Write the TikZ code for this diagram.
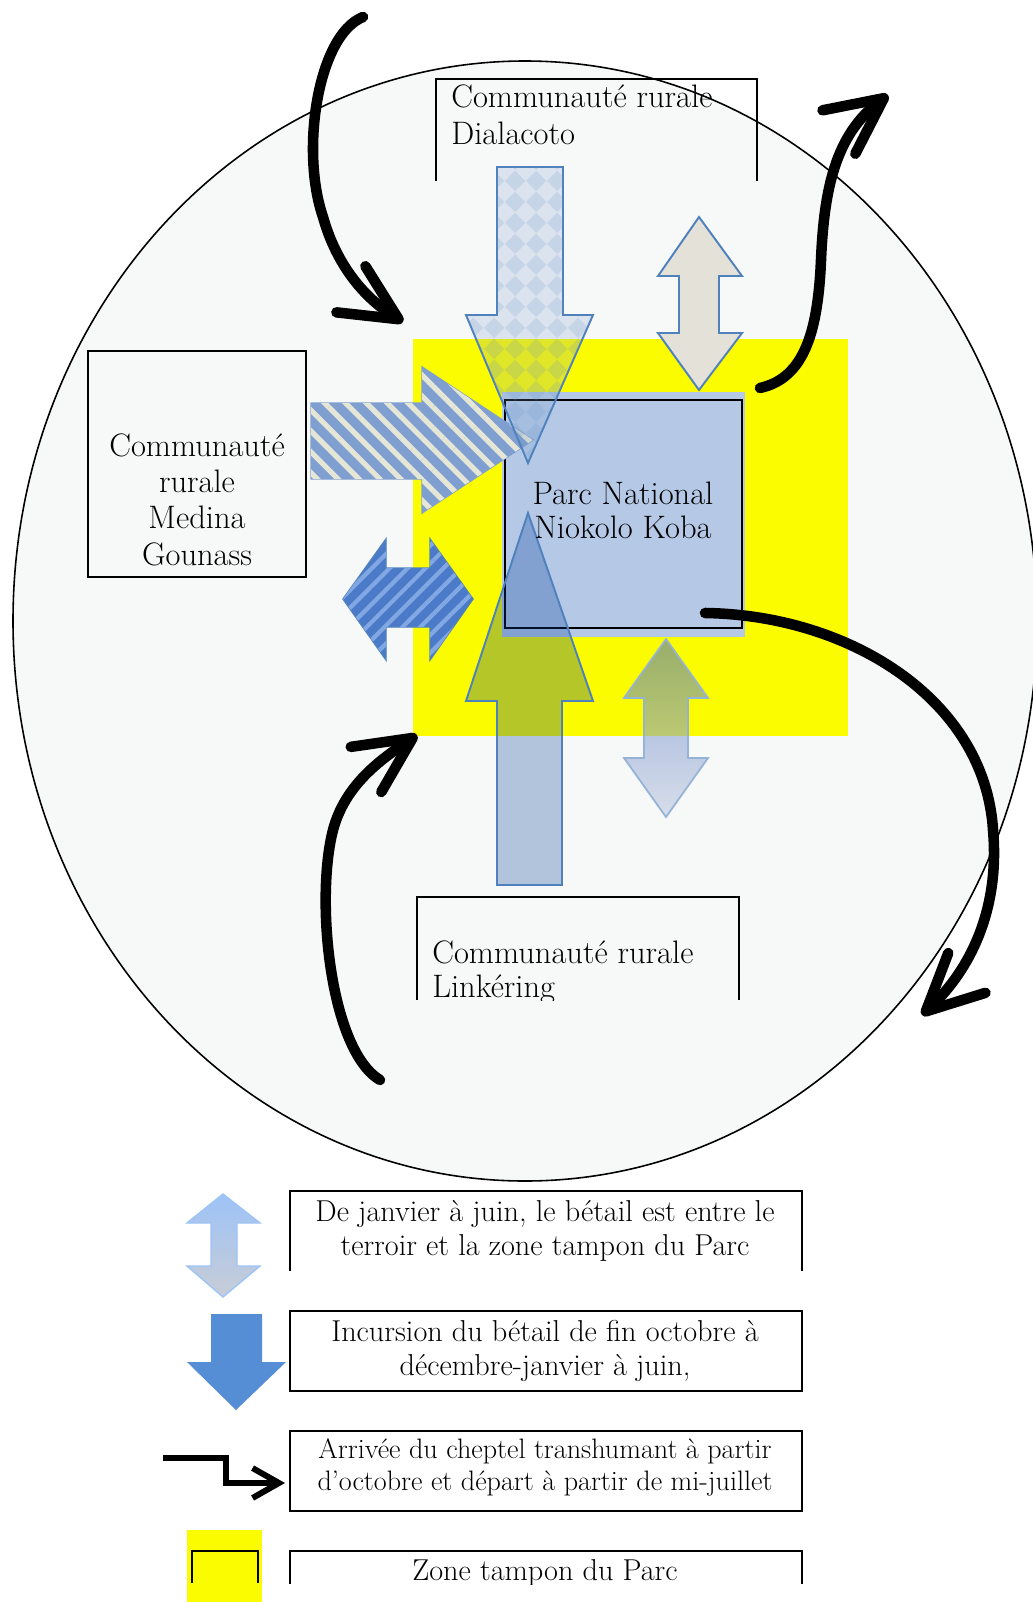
\documentclass[tikz,border=0pt]{standalone}
\usepackage{fontspec}
\usetikzlibrary{arrows.meta,patterns.meta}

\definecolor{terroir}{RGB}{247,248,248}
\definecolor{tampon}{RGB}{252,252,0}
\definecolor{parcbleu}{RGB}{181,201,231}
\definecolor{contour}{RGB}{79,129,189}
\definecolor{beige}{RGB}{228,225,216}
\definecolor{rayeclair}{RGB}{127,159,208}
\definecolor{rayeblanc}{RGB}{230,230,214}
\definecolor{rayefonce}{RGB}{74,122,200}
\definecolor{rayepale}{RGB}{130,168,228}
\definecolor{incursion}{RGB}{110,150,200}
\definecolor{montee}{RGB}{0,59,150}
\definecolor{degradehaut}{RGB}{70,110,195}
\definecolor{degradebas}{RGB}{190,200,222}
\definecolor{legendehaut}{RGB}{157,195,247}
\definecolor{legendebas}{RGB}{200,205,214}
\definecolor{legendebleu}{RGB}{85,142,213}

\tikzdeclarepattern{
  name=losanges,
  type=uncolored,
  bottom left={(0pt,0pt)},
  top right={(12pt,12pt)},
  tile size={(12pt,12pt)},
  code={\fill (6pt,0pt) -- (12pt,6pt) -- (6pt,12pt) -- (0pt,6pt) -- cycle;}
}

\begin{document}
\begin{tikzpicture}[x=0.02cm, y=-0.02cm,
    cadre/.style={draw=black, line width=0.9pt},
    legende/.style={draw=black, line width=1.1pt},
    bloc/.style={draw=contour, line width=1.1pt, line join=miter},
    transhum/.style={line width=6pt, line cap=round, line join=round,
      -{Straight Barb[length=32pt, width=31pt, round]}},
    texte/.style={inner sep=0pt, font=\fontsize{18.5}{20.5}\selectfont},
    texteleg/.style={inner sep=0pt, align=center, font=\fontsize{17.2}{18.8}\selectfont}]

  \useasboundingbox (0,0) rectangle (1032,1602);
  \fill[white] (0,0) rectangle (1032,1602);

  % terroir et zone tampon
  \draw[fill=terroir, line width=0.9pt] (525,621) ellipse [x radius=512, y radius=560];
  \fill[tampon] (413,339) rectangle (848,736);

  % parc
  \fill[parcbleu] (502,392) rectangle (745,637);
  \draw[line width=0.9pt] (505,400) rectangle (742,628);

  % fleches du terroir
  \draw[bloc, fill=beige] (699,217) -- (742,276) -- (719,276) -- (719,333) -- (742,333)
    -- (699,390) -- (658,333) -- (679,333) -- (679,276) -- (658,276) -- cycle;
  \draw[draw=contour!60, line width=1pt, top color=degradehaut, bottom color=degradebas, fill opacity=0.55]
    (666,639) -- (708,698) -- (688,698) -- (688,758) -- (708,758)
    -- (666,817) -- (624,758) -- (644,758) -- (644,698) -- (624,698) -- cycle;
  \draw[draw=contour, line width=0.8pt, fill=rayefonce,
      postaction={pattern={Lines[angle=45, distance=7.2pt, line width=2.4pt]}, pattern color=rayepale}]
    (343,599) -- (386,539) -- (386,568) -- (430,568) -- (430,539) -- (473,599)
    -- (430,660) -- (430,627) -- (386,627) -- (386,660) -- cycle;
  \draw[draw=rayeclair, line width=0.8pt, fill=rayeclair,
      postaction={pattern={Lines[angle=-45, distance=8.4pt, line width=3pt]}, pattern color=rayeblanc}]
    (311,403) -- (422,403) -- (422,367) -- (533,440) -- (422,513) -- (422,479) -- (311,479) -- cycle;
  \draw[bloc, fill=incursion, fill opacity=0.2,
      postaction={pattern=losanges, pattern color=incursion, fill opacity=0.2}]
    (497,167) -- (563,167) -- (563,315) -- (593,315) -- (528,463) -- (466,315) -- (497,315) -- cycle;
  \draw[bloc, fill=montee, fill opacity=0.28]
    (497,885) -- (562,885) -- (562,701) -- (593,701) -- (528,513) -- (466,701) -- (497,701) -- cycle;

  \node[texte, anchor=base, align=center, font=\fontsize{18.5}{18.8}\selectfont] (parc) at (623,538)
    {Parc National\\Niokolo Koba};

  % communautes rurales
  \draw[cadre] (436,181) -- (436,79) -- (757,79) -- (757,181);
  \node[texte, anchor=base west, align=left] (dialacoto) at (451,144) {Communauté rurale\\Dialacoto};

  \draw[cadre] (88,351) rectangle (306,577);
  \node[texte, anchor=base, align=center] (medina) at (197,565) {Communauté\\rurale\\Medina\\Gounass};

  \draw[cadre] (417,1000) -- (417,897) -- (739,897) -- (739,1000);
  \begin{scope}
    \clip (417,897) rectangle (739,1000);
    \node[texte, anchor=base west, align=left, font=\fontsize{18.5}{19.3}\selectfont] (linkering) at (432,997)
      {Communauté rurale\\Linkéring};
  \end{scope}

  % cheptel transhumant
  \coordinate (depNO) at (363,17);
  \coordinate (arrNO) at (403,322);
  \coordinate (depNE) at (760,388);
  \coordinate (arrNE) at (888,95);
  \coordinate (depE) at (705,613);
  \coordinate (arrE) at (922,1015);
  \coordinate (depSO) at (380,1080);
  \coordinate (arrSO) at (417,735);
  \draw[transhum] (depNO) .. controls (318,35) and (300,150) .. (323,217)
    .. controls (335,260) and (360,295) .. (arrNO);
  \draw[transhum] (depNE) .. controls (805,378) and (818,330) .. (821,260)
    .. controls (824,190) and (835,135) .. (arrNE);
  \draw[transhum] (depE) .. controls (850,615) and (985,700) .. (993,830)
    .. controls (1000,910) and (970,970) .. (arrE);
  \draw[transhum] (depSO) .. controls (330,1050) and (315,900) .. (333,830)
    .. controls (345,785) and (380,760) .. (arrSO);

  % legende
  \draw[draw=legendehaut, line width=0.8pt, top color=legendehaut, bottom color=legendebas]
    (223,1194) -- (260,1223) -- (237,1223) -- (237,1266) -- (260,1266)
    -- (223,1297) -- (187,1266) -- (211,1266) -- (211,1223) -- (187,1223) -- cycle;
  \fill[legendebleu] (211,1314) -- (262,1314) -- (262,1362) -- (286,1362) -- (236,1410)
    -- (187,1362) -- (211,1362) -- cycle;
  \coordinate (marcheA) at (163,1458);
  \coordinate (marcheB) at (285,1483);
  \draw[line width=3.4pt, -{Straight Barb[length=15pt, width=17pt]}]
    (marcheA) -- (226,1458) -- (226,1483) -- (marcheB);
  \fill[tampon] (187,1530) rectangle (262,1602);
  \draw[line width=1pt] (192,1583) -- (192,1551) -- (258,1551) -- (258,1583);

  \draw[legende] (290,1271) -- (290,1191) -- (802,1191) -- (802,1271);
  \node[texteleg, anchor=base] (leg1) at (545,1255)
    {De janvier à juin, le bétail est entre le\\terroir et la zone tampon du Parc};
  \draw[legende] (290,1311) rectangle (802,1391);
  \node[texteleg, anchor=base] (leg2) at (545,1375)
    {Incursion du bétail de fin octobre à\\décembre-janvier à juin,};
  \draw[legende] (290,1431) rectangle (802,1511);
  \node[texteleg, anchor=base, font=\fontsize{16}{18.2}\selectfont] (leg3) at (545,1490)
    {Arrivée du cheptel transhumant à partir\\d’octobre et départ à partir de mi-juillet};
  \draw[legende] (290,1584) -- (290,1551) -- (802,1551) -- (802,1584);
  \begin{scope}
    \clip (290,1551) rectangle (802,1584);
    \node[texteleg, anchor=base] (leg4) at (545,1580) {Zone tampon du Parc};
  \end{scope}
\end{tikzpicture}
\end{document}
